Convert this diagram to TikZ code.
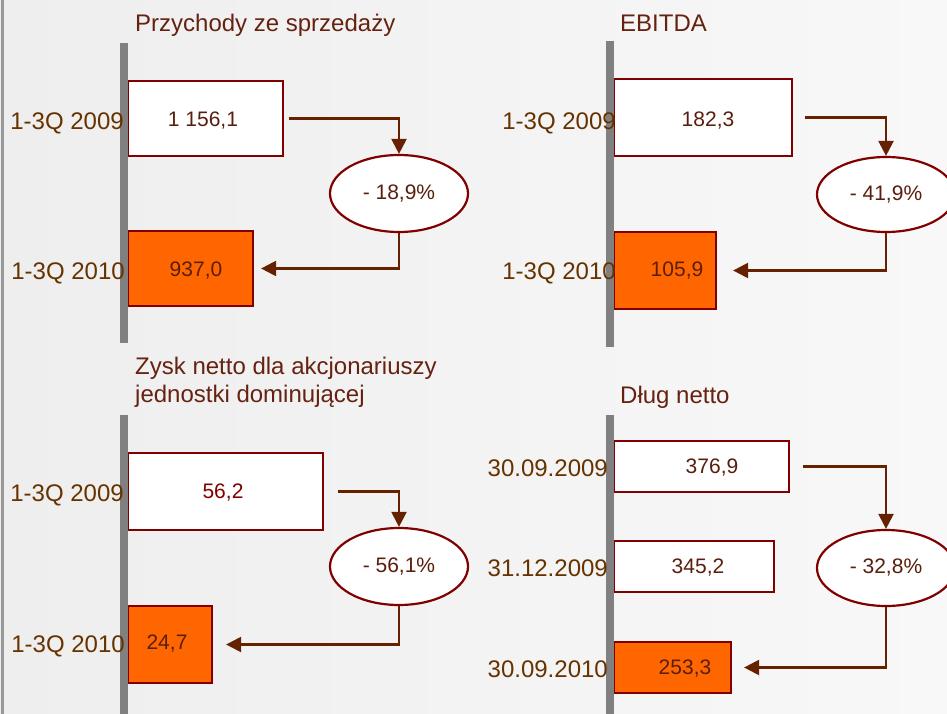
\documentclass[tikz,border=0pt]{standalone}
\usepackage{fontspec}
\setmainfont{Liberation Sans}
\usetikzlibrary{positioning, arrows, arrows.meta, shapes.geometric}

\definecolor{bgleft}{HTML}{EEEEEE}
\definecolor{bgright}{HTML}{F8F8F8}
\definecolor{rimgray}{HTML}{999999}
\definecolor{axisgray}{HTML}{808080}
\definecolor{boxred}{HTML}{800000}
\definecolor{barorange}{HTML}{FF6600}
\definecolor{flowbrown}{HTML}{662200}
\definecolor{periodbrown}{HTML}{663300}
\definecolor{valbrown}{HTML}{5A1E0C}
\definecolor{headbrown}{HTML}{662211}

\begin{document}
\begin{tikzpicture}[x=1pt, y=-1pt]

	\tikzstyle{barbox}=[draw=boxred, line width=2.2pt, fill=white, inner sep=0pt]
	\tikzstyle{nowbox}=[barbox, fill=barorange]
	\tikzstyle{axisbar}=[fill=axisgray, inner sep=0pt, minimum width=8pt]
	\tikzstyle{changeoval}=[ellipse, draw=boxred, line width=2.2pt, fill=white, inner sep=0pt, minimum width=138pt, text=valbrown, font=\fontsize{21}{25}\selectfont]
	\tikzstyle{valtext}=[text=valbrown, inner sep=0pt, font=\fontsize{21}{25}\selectfont]
	\tikzstyle{period}=[text=periodbrown, inner sep=0pt, anchor=base east, font=\fontsize{24}{28}\selectfont]
	\tikzstyle{heading}=[text=headbrown, inner sep=0pt, font=\fontsize{24}{28}\selectfont]
	\tikzstyle{flow}=[-{Triangle[length=15pt, width=15pt]}, draw=flowbrown, line width=2.2pt]

	\useasboundingbox (0,0) rectangle (947,714);
	\clip (0,0) rectangle (947,714);
	\shade[left color=bgleft, right color=bgright] (0,0) rectangle (947,714);
	\fill[rimgray] (1,0) rectangle (4,714);


	% Przychody ze sprzedazy
	\node[heading, anchor=base west] (salestitle) at (135,32) {Przychody ze sprzedaży};
	\node[barbox, minimum width=155pt, minimum height=75pt] (sales09) at (205.5,118.5) {};
	\node[nowbox, minimum width=125pt, minimum height=75pt] (sales10) at (190.5,268.5) {};
	\node[axisbar, minimum height=300pt] (salesaxis) at (124,193) {};
	\node[period] (sales09lbl) at (124,129.6) {1-3Q 2009};
	\node[period] (sales10lbl) at (125,279.6) {1-3Q 2010};
	\node[valtext] (sales09val) at (203,121) {1 156,1};
	\node[valtext] (sales10val) at (196,271) {937,0};
	\node[changeoval, minimum height=77pt] (salesch) at (399,193.5) {- 18,9\%};

	\draw[flow, shorten <=5pt] (sales09.east) -| (salesch.north);
	\draw[flow, shorten >=7pt] (salesch.south) |- (sales10.east);


	% EBITDA
	\node[heading, anchor=base west] (ebitdatitle) at (620,32) {EBITDA};
	\node[barbox, minimum width=178pt, minimum height=77pt] (ebitda09) at (703,117.5) {};
	\node[nowbox, minimum width=102pt, minimum height=77pt] (ebitda10) at (665,270.5) {};
	\node[axisbar, minimum height=306pt] (ebitdaaxis) at (610,194) {};
	\node[period] (ebitda09lbl) at (616,129.6) {1-3Q 2009};
	\node[period] (ebitda10lbl) at (616,279.6) {1-3Q 2010};
	\node[valtext] (ebitda09val) at (708,121) {182,3};
	\node[valtext] (ebitda10val) at (677,271) {105,9};
	\node[changeoval, minimum height=75pt] (ebitdach) at (886,194.5) {- 41,9\%};

	\draw[flow, shorten <=12pt] (ebitda09.east) -| (ebitdach.north);
	\draw[flow, shorten >=16pt] (ebitdach.south) |- (ebitda10.east);


	% Zysk netto
	\node[heading, anchor=north west, align=left] (profittitle) at (135,357) {Zysk netto dla akcjonariuszy\\jednostki dominującej};
	\node[barbox, minimum width=195pt, minimum height=77pt] (profit09) at (225.5,491.5) {};
	\node[nowbox, minimum width=84pt, minimum height=77pt] (profit10) at (170,644.5) {};
	\node[axisbar, minimum height=300pt] (profitaxis) at (124,565) {};
	\node[period] (profit09lbl) at (124,501.6) {1-3Q 2009};
	\node[period] (profit10lbl) at (125,652.6) {1-3Q 2010};
	\node[valtext, text=boxred] (profit09val) at (223,493) {56,2};
	\node[valtext] (profit10val) at (167,644) {24,7};
	\node[changeoval, minimum height=77pt] (profitch) at (399,566.5) {- 56,1\%};

	\draw[flow, shorten <=14pt] (profit09.east) -| (profitch.north);
	\draw[flow, shorten >=13pt] (profitch.south) |- (profit10.east);


	% Dlug netto
	\node[heading, anchor=base west] (debttitle) at (620,403.3) {Dług netto};
	\node[barbox, minimum width=175pt, minimum height=51pt] (debtsep09) at (701.5,466.5) {};
	\node[barbox, minimum width=160pt, minimum height=51pt] (debtdec09) at (694,566.5) {};
	\node[nowbox, minimum width=117pt, minimum height=51pt] (debtsep10) at (672.5,667.5) {};
	\node[axisbar, minimum height=300pt] (debtaxis) at (610,565) {};
	\node[period] (debtsep09lbl) at (608,476.6) {30.09.2009};
	\node[period] (debtdec09lbl) at (608,576.6) {31.12.2009};
	\node[period] (debtsep10lbl) at (608,677.6) {30.09.2010};
	\node[valtext] (debtsep09val) at (712,468) {376,9};
	\node[valtext] (debtdec09val) at (698,568) {345,2};
	\node[valtext] (debtsep10val) at (685,669) {253,3};
	\node[changeoval, minimum height=76pt] (debtch) at (886,568) {- 32,8\%};

	\draw[flow, shorten <=13pt] (debtsep09.east) -| (debtch.north);
	\draw[flow, shorten >=12pt] (debtch.south) |- (debtsep10.east);

\end{tikzpicture}
\end{document}
